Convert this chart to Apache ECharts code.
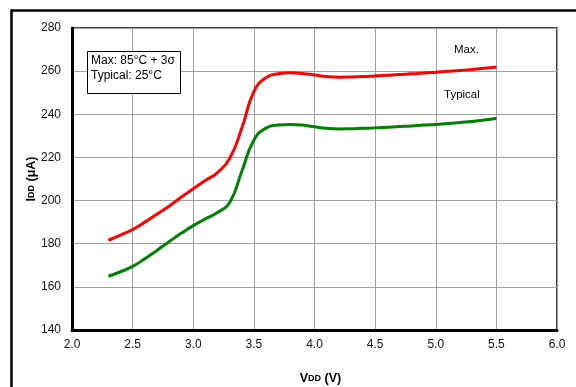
<!DOCTYPE html>
<html>
<head>
<meta charset="utf-8">
<script src="https://cdn.jsdelivr.net/npm/echarts@6/dist/echarts.min.js"></script>
<style>html,body{margin:0;padding:0;background:#fff;}#c{width:576px;height:387px;}</style>
</head>
<body>
<div id="c"></div>
<script>
const vdd = [2.3, 2.4, 2.5, 2.6, 2.7, 2.8, 2.9, 3.0, 3.1, 3.2, 3.3, 3.4, 3.5, 3.6, 3.7, 3.8, 3.9, 4.0, 4.1, 4.2, 4.3, 4.4, 4.5, 4.6, 4.7, 4.8, 4.9, 5.0, 5.1, 5.2, 5.3, 5.4, 5.5];
const maxIdd = [181.6, 184.0, 186.6, 190.0, 193.7, 197.4, 201.5, 205.5, 209.3, 213.0, 219.5, 233.5, 250.5, 257.0, 258.8, 259.2, 258.9, 258.2, 257.5, 257.2, 257.3, 257.5, 257.8, 258.1, 258.4, 258.8, 259.1, 259.5, 259.9, 260.3, 260.8, 261.3, 261.9];
const typIdd = [164.9, 167.0, 169.5, 173.0, 176.9, 180.9, 184.8, 188.4, 191.5, 194.5, 199.0, 213.5, 228.0, 233.6, 235.0, 235.3, 235.0, 234.2, 233.5, 233.2, 233.3, 233.5, 233.7, 234.0, 234.3, 234.6, 235.0, 235.3, 235.7, 236.2, 236.7, 237.3, 238.0];
const xTicks = [2.0, 2.5, 3.0, 3.5, 4.0, 4.5, 5.0, 5.5, 6.0];
const yTicks = [140, 160, 180, 200, 220, 240, 260, 280];
const seriesNames = ['Max.', 'Typical'];
const legendLines = ['Max: 85\u00b0C + 3\u03c3', 'Typical: 25\u00b0C'];

const font = 'Liberation Sans, Arial, sans-serif';
const chart = echarts.init(document.getElementById('c'), null, {renderer: 'canvas'});
const pair = (xs, ys) => xs.map((x, i) => [x, ys[i]]);

chart.setOption({
  animation: false,
  backgroundColor: '#fff',
  grid: {left: 72, right: 19, top: 28, bottom: 57, show: true, borderColor: '#000', borderWidth: 1.5, outerBoundsMode: 'none'},
  xAxis: {
    type: 'value', min: xTicks[0], max: xTicks[xTicks.length - 1], interval: 0.5,
    axisLine: {show: true, lineStyle: {color: '#000', width: 3}},
    axisTick: {show: false},
    axisLabel: {color: '#111', fontSize: 12, fontFamily: font, margin: 9, formatter: v => v.toFixed(1)},
    splitLine: {show: true, lineStyle: {color: '#a0a0a0', width: 1}},
    name: 'V{sub|DD} (V)', nameLocation: 'middle', nameGap: 42, nameMoveOverlap: false,
    nameTextStyle: {color: '#000', fontSize: 12.5, fontWeight: 'bold', fontFamily: font, padding: [0, 0, 0, 12],
      rich: {sub: {fontSize: 9, fontWeight: 'bold', fontFamily: font, color: '#000'}}}
  },
  yAxis: {
    type: 'value', min: yTicks[0], max: yTicks[yTicks.length - 1], interval: 20,
    axisLine: {show: true, lineStyle: {color: '#000', width: 3}},
    axisTick: {show: false},
    axisLabel: {color: '#111', fontSize: 12, fontFamily: font, margin: 11},
    splitLine: {show: true, lineStyle: {color: '#a0a0a0', width: 1}},
    name: 'I{sub|DD} (\u03bcA)', nameLocation: 'middle', nameGap: 34, nameRotate: 90, nameMoveOverlap: false,
    nameTextStyle: {color: '#000', fontSize: 12.5, fontWeight: 'bold', fontFamily: font,
      rich: {sub: {fontSize: 9, fontWeight: 'bold', fontFamily: font, color: '#000'}}}
  },
  series: [
    {name: seriesNames[0], type: 'line', data: pair(vdd, maxIdd), smooth: 0.5, showSymbol: false,
     lineStyle: {color: '#ff0000', width: 3}, z: 3},
    {name: seriesNames[1], type: 'line', data: pair(vdd, typIdd), smooth: 0.5, showSymbol: false,
     lineStyle: {color: '#008000', width: 3}, z: 3}
  ],
  graphic: [
    {type: 'rect', left: 9, top: 8, shape: {x: 0, y: 0, width: 620, height: 420}, style: {fill: null, stroke: '#000', lineWidth: 2.5}, silent: true},
    {type: 'rect', left: 87, top: 51, shape: {x: 0, y: 0, width: 93, height: 42}, style: {fill: '#fff', stroke: '#000', lineWidth: 1}, z: 10},
    {type: 'text', left: 91, top: 55, style: {text: legendLines[0], font: '12px ' + font, fill: '#000'}, z: 11},
    {type: 'text', left: 91, top: 70, style: {text: legendLines[1], font: '12px ' + font, fill: '#000'}, z: 11},
    {type: 'text', left: 454, top: 44, style: {text: seriesNames[0], font: '11.5px ' + font, fill: '#000'}, z: 11},
    {type: 'text', left: 444, top: 89, style: {text: seriesNames[1], font: '11.5px ' + font, fill: '#000'}, z: 11}
  ]
});
</script>
</body>
</html>
